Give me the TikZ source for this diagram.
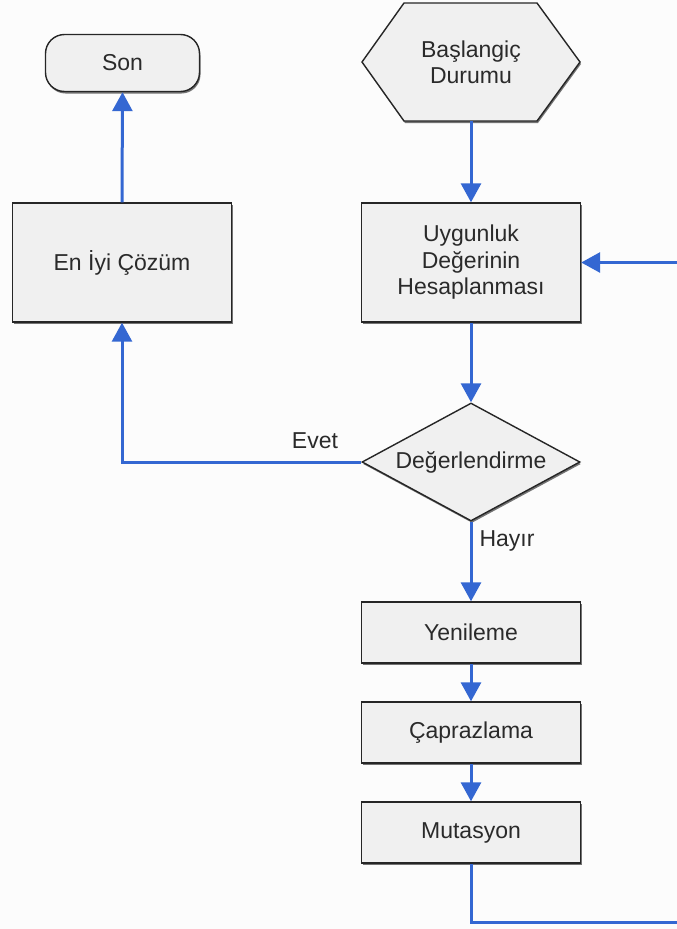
\documentclass[tikz,border=0pt]{standalone}
\usepackage{fontspec}
\setmainfont{Liberation Sans}
\usetikzlibrary{arrows.meta,shapes.geometric,shadows}

\definecolor{boxfill}{HTML}{F0F0F0}
\definecolor{boxline}{HTML}{262626}
\definecolor{flowblue}{HTML}{3467D2}
\definecolor{txt}{HTML}{2A2A2A}

\tikzset{
  shade/.style={drop shadow={shadow xshift=1pt,shadow yshift=-2pt,fill=black!55,opacity=1}},
  base/.style={fill=boxfill,draw=boxline,line width=1.4pt,inner sep=0pt,
    font=\fontsize{23}{26.5}\selectfont,text=txt,align=center,shade},
  procbox/.style={base,rectangle,minimum width=219pt},
  termbox/.style={base,rounded corners=19pt,minimum width=154pt,minimum height=57pt},
  decbox/.style={base,diamond,aspect=1.85,minimum width=218pt,minimum height=118pt},
  lbl/.style={font=\fontsize{23}{26}\selectfont,text=txt,inner sep=0pt},
  conn/.style={draw=flowblue,line width=3pt,-{Triangle[width=20pt,length=19pt]}},
  plain/.style={draw=flowblue,line width=3pt}
}

\begin{document}
\begin{tikzpicture}[x=1pt,y=-1pt]
  \useasboundingbox (0,0) rectangle (677,929);
  \clip (0,0) rectangle (677,929);
  \fill[white!99!black] (0,0) rectangle (677,929);

  % start: hexagon outline, then a text node over it
  \path[fill=boxfill,draw=boxline,line width=1.4pt,line join=miter,shade]
    (404,3) -- (537,3) -- (580,62) -- (537,121) -- (404,121) -- (362,62) -- cycle;
  \node[lbl,align=center,font=\fontsize{23}{26}\selectfont,minimum width=218pt,minimum height=118pt]
    (start) at (471,62) {Başlangiç\\Durumu};

  % terminal and process boxes
  \node[termbox] (son) at (122.5,63) {Son};
  \node[procbox,minimum height=119pt] (best) at (122,262.5) {En İyi Çözüm};
  \node[procbox,minimum height=119pt] (fit) at (471,262.5) {Uygunluk\\Değerinin\\Hesaplanması};
  \node[decbox] (dec) at (471,462) {Değerlendirme};
  \node[procbox,minimum height=61pt] (yen) at (471,632.5) {Yenileme};
  \node[procbox,minimum height=61pt] (cap) at (471,732.5) {Çaprazlama};
  \node[procbox,minimum height=61pt] (mut) at (471,832.5) {Mutasyon};

  % branch labels
  \node[lbl] (evet) at (315,441) {Evet};
  \node[lbl] (hayir) at (507,541) {Hayır};

  % loop-back route on the right
  \coordinate (loopbot) at (720,922);
  \coordinate (looptop) at (720,262.5);

  % connectors
  \draw[conn] (start.south) -- (fit.north);
  \draw[conn] (fit.south) -- (dec.north);
  \draw[conn] (dec.west) -| (best.south);
  \draw[conn] (best.north) -- (son.south);
  \draw[conn] (dec.south) -- (yen.north);
  \draw[conn] (yen.south) -- (cap.north);
  \draw[conn] (cap.south) -- (mut.north);
  \draw[conn,line join=miter] (mut.south) |- (loopbot) -- (looptop) -- (fit.east);
\end{tikzpicture}
\end{document}
